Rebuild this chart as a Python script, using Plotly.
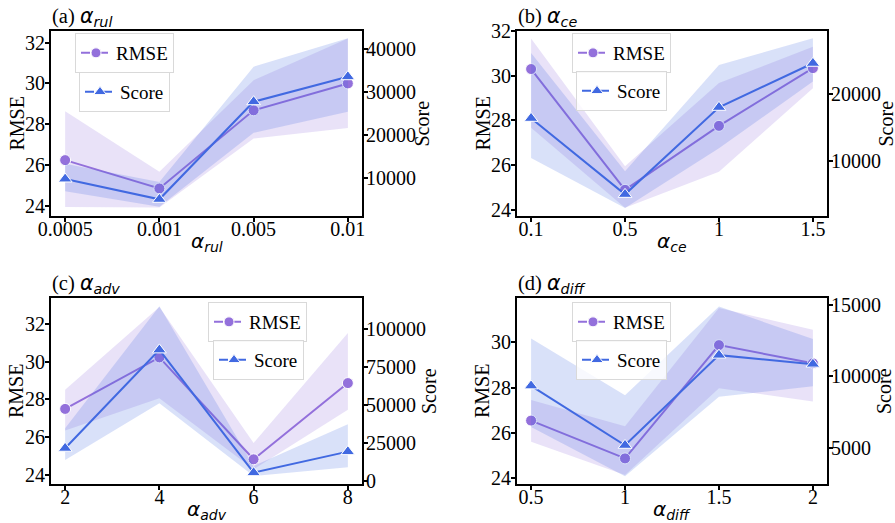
import plotly.graph_objects as go

W, H = 895, 523

# ---------------- data ----------------
panel_letters = ["(a)", "(b)", "(c)", "(d)"]
param_subs = ["rul", "ce", "adv", "diff"]
x_labels = [
    ["0.0005", "0.001", "0.005", "0.01"],
    ["0.1", "0.5", "1", "1.5"],
    ["2", "4", "6", "8"],
    ["0.5", "1", "1.5", "2"],
]

rmse_mean = [
    [26.24, 24.85, 28.68, 30.00],
    [30.30, 24.90, 27.76, 30.34],
    [27.50, 30.23, 24.83, 28.87],
    [26.55, 24.88, 29.88, 29.08],
]
rmse_upper = [
    [28.63, 25.67, 30.16, 32.20],
    [31.66, 25.95, 29.67, 31.30],
    [28.51, 32.90, 25.70, 31.52],
    [27.46, 26.30, 31.52, 30.56],
]
rmse_lower = [
    [23.94, 23.92, 27.30, 27.82],
    [27.67, 24.10, 25.71, 29.44],
    [26.35, 28.07, 24.30, 27.45],
    [25.62, 24.15, 27.98, 27.39],
]

score_mean = [
    [9700, 4950, 27760, 33600],
    [16400, 5000, 18050, 24650],
    [21570, 86300, 5480, 19330],
    [9320, 5160, 11470, 10840],
]
score_upper = [
    [13270, 9000, 35930, 42570],
    [26190, 8450, 24400, 28400],
    [34760, 115000, 9900, 37400],
    [12640, 8670, 14870, 12600],
]
score_lower = [
    [6820, 3220, 20510, 25420],
    [10450, 2950, 11900, 21900],
    [13850, 51250, 3300, 9040],
    [6445, 3000, 8550, 9300],
]

rmse_ticks = [[24, 26, 28, 30, 32], [24, 26, 28, 30, 32], [24, 26, 28, 30, 32], [24, 26, 28, 30]]
score_ticks = [[10000, 20000, 30000, 40000], [10000, 20000], [0, 25000, 50000, 75000, 100000], [5000, 10000, 15000]]

# ---------------- layout constants ----------------
rmse_ranges = [[23.5, 32.57], [23.73, 32.0], [23.52, 33.38], [23.75, 31.96]]
score_ranges = [[1050, 44280], [1750, 29490], [-1980, 120450], [2450, 15470]]

# plot boxes in pixels (left, right, top, bottom)
boxes = [(51, 362, 31, 216), (517, 827, 31, 216), (51, 362, 298, 484), (517, 827, 298, 484)]
# legend top-left corners (px): rmse, score
leg_pos = [
    ((75, 33), (79, 72)),
    ((572, 33), (576, 71)),
    ((208, 302), (213, 340)),
    ((572, 302), (576, 340)),
]
left_title_x = [16, 482, 16, 482]
right_title_x = [421, 885, 429, 884]

PURPLE = "#9370DB"
BLUE = "#4169E1"
PURPLE_FILL = "rgba(147,112,219,0.2)"
BLUE_FILL = "rgba(65,105,225,0.2)"
SERIF = "Liberation Serif"
SANS = "DejaVu Sans"

def px_x(p):
    return p / W

def px_y(p):
    return 1 - p / H

fig = go.Figure()
layout = {}
annotations = []

for i in range(4):
    n = i + 1
    xa = "x" if n == 1 else f"x{n}"
    ya_r = "y" if 2 * i + 1 == 1 else f"y{2*i+1}"
    ya_s = f"y{2*i+2}"
    xs = list(range(len(x_labels[i])))
    xs_poly = xs + xs[::-1]

    # RMSE band
    fig.add_trace(go.Scatter(
        x=xs_poly, y=rmse_upper[i] + rmse_lower[i][::-1], fill="toself",
        fillcolor=PURPLE_FILL, line=dict(width=0), mode="lines",
        hoverinfo="skip", showlegend=False, xaxis=xa, yaxis=ya_r))
    # RMSE line
    fig.add_trace(go.Scatter(
        x=xs, y=rmse_mean[i], mode="lines+markers",
        line=dict(color=PURPLE, width=2),
        marker=dict(symbol="circle", size=11, color=PURPLE, line=dict(color="white", width=1)),
        showlegend=False, xaxis=xa, yaxis=ya_r))
    # Score band
    fig.add_trace(go.Scatter(
        x=xs_poly, y=score_upper[i] + score_lower[i][::-1], fill="toself",
        fillcolor=BLUE_FILL, line=dict(width=0), mode="lines",
        hoverinfo="skip", showlegend=False, xaxis=xa, yaxis=ya_s))
    # Score line
    fig.add_trace(go.Scatter(
        x=xs, y=score_mean[i], mode="lines+markers",
        line=dict(color=BLUE, width=2),
        marker=dict(symbol="triangle-up", size=12, color=BLUE, line=dict(color="white", width=1)),
        showlegend=False, xaxis=xa, yaxis=ya_s))

    # legend-only entries (dashed like matplotlib legend handles)
    lg_r = "legend" if i == 0 else f"legend{2*i+1}"
    lg_s = f"legend{2*i+2}"
    fig.add_trace(go.Scatter(
        x=[None], y=[None], mode="lines+markers", name="RMSE",
        line=dict(color=PURPLE, width=2, dash="dash"),
        marker=dict(symbol="circle", size=10, color=PURPLE, line=dict(color="white", width=1)),
        showlegend=True, legend=lg_r, xaxis=xa, yaxis=ya_r))
    fig.add_trace(go.Scatter(
        x=[None], y=[None], mode="lines+markers", name="Score",
        line=dict(color=BLUE, width=2, dash="dash"),
        marker=dict(symbol="triangle-up", size=11, color=BLUE, line=dict(color="white", width=1)),
        showlegend=True, legend=lg_s, xaxis=xa, yaxis=ya_s))

    L, R, T, B = boxes[i]
    tickfont = dict(family=SERIF, size=20, color="black")
    xkey = "xaxis" if n == 1 else f"xaxis{n}"
    layout[xkey] = dict(
        domain=[px_x(L), px_x(R)], anchor=ya_r, range=[-0.15, len(xs) - 1 + 0.15],
        tickmode="array", tickvals=xs, ticktext=x_labels[i], tickfont=tickfont,
        ticks="outside", ticklen=4, tickwidth=1.5, tickcolor="black",
        ticklabelstandoff=-10, automargin=False,
        showline=True, linecolor="black", linewidth=2, mirror=True,
        showgrid=False, zeroline=False, fixedrange=True)
    yrkey = "yaxis" if 2 * i + 1 == 1 else f"yaxis{2*i+1}"
    layout[yrkey] = dict(
        domain=[px_y(B), px_y(T)], anchor=xa, range=rmse_ranges[i],
        tickmode="array", tickvals=rmse_ticks[i], tickfont=tickfont,
        ticks="outside", ticklen=4, tickwidth=1.5, tickcolor="black",
        ticklabelstandoff=-4, automargin=False,
        showline=True, linecolor="black", linewidth=2, mirror=True,
        showgrid=False, zeroline=False, fixedrange=True)
    layout[f"yaxis{2*i+2}"] = dict(
        domain=[px_y(B), px_y(T)], anchor=xa, overlaying=ya_r, side="right",
        range=score_ranges[i], tickmode="array", tickvals=score_ticks[i],
        tickformat="d", tickfont=tickfont,
        ticks="outside", ticklen=4, tickwidth=1.5, tickcolor="black",
        ticklabelstandoff=-6, automargin=False,
        showline=True, linecolor="black", linewidth=2,
        showgrid=False, zeroline=False, fixedrange=True)

    legstyle = dict(
        font=dict(family=SERIF, size=19, color="black"),
        bgcolor="rgba(255,255,255,0.8)", bordercolor="#d9d9d9", borderwidth=1,
        xanchor="left", yanchor="top", itemwidth=30, tracegroupgap=0)
    (rx, ry), (sx, sy) = leg_pos[i]
    layout[lg_r] = dict(x=px_x(rx), y=px_y(ry), **legstyle)
    layout[lg_s] = dict(x=px_x(sx), y=px_y(sy), **legstyle)

    sub = param_subs[i]
    alpha_html = f'<span style="font-family:{SANS}"><i>α</i><sub><i>{sub}</i></sub></span>'
    # panel title
    annotations.append(dict(
        x=px_x(L - 1), y=px_y(T - 14), xref="paper", yref="paper",
        xanchor="left", yanchor="middle", showarrow=False,
        text=f"{panel_letters[i]} {alpha_html}",
        font=dict(family=SERIF, size=20.5, color="black")))
    # x title
    annotations.append(dict(
        x=px_x((L + R) / 2), y=px_y(B + 26), xref="paper", yref="paper",
        xanchor="center", yanchor="middle", showarrow=False,
        text=alpha_html, font=dict(family=SANS, size=20, color="black")))
    # left y title
    annotations.append(dict(
        x=px_x(left_title_x[i]), y=px_y((T + B) / 2), xref="paper", yref="paper",
        xanchor="center", yanchor="middle", showarrow=False, textangle=-90,
        text="RMSE", font=dict(family=SERIF, size=20, color="black")))
    # right y title
    annotations.append(dict(
        x=px_x(right_title_x[i]), y=px_y((T + B) / 2), xref="paper", yref="paper",
        xanchor="center", yanchor="middle", showarrow=False, textangle=-90,
        text="Score", font=dict(family=SERIF, size=20, color="black")))

fig.update_layout(
    width=W, height=H, margin=dict(l=0, r=0, t=0, b=0),
    paper_bgcolor="white", plot_bgcolor="white",
    annotations=annotations, **layout)

fig.write_html("out.html")
